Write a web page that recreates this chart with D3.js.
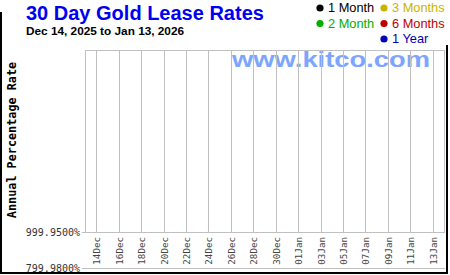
<!DOCTYPE html>
<meta charset="utf-8">
<script src="https://d3js.org/d3.v7.min.js"></script>
<style>
  body { margin: 0; background: #fff; }
  svg { display: block; }
</style>
<div id="chart"></div>
<script>

// data (no series values are plotted in the reference)
var title = "30 Day Gold Lease Rates"
var subtitle = "Dec 14, 2025 to Jan 13, 2026"
var seriesNames = ["1 Month", "2 Month", "3 Months", "6 Months", "1 Year"]
var dateStart = "2025-12-14"
var dateEnd = "2026-01-13"
var yTickValues = [799.98, 999.95]
var seriesValues = [[], [], [], [], []]

// styles
var seriesColors = ["#000000", "#00b000", "#c8b400", "#c00000", "#0000b4"]

var width = 450,
    height = 275

var svg = d3.select("#chart")
  .append("svg")
    .attr("width", width)
    .attr("height", height)

// outer frame (left, bottom, right)
svg.append("path")
  .attr("d", "M1,12 V273 H447 V45")
  .attr("fill", "none")
  .attr("stroke", "#000")
  .attr("stroke-width", 2)

// titles
svg.append("text").attr("x", 26).attr("y", 19.5).text(title)
  .style("font-family", "Arial, 'Liberation Sans', sans-serif")
  .style("font-weight", 700).style("font-size", "20px").style("fill", "#0000f0")
svg.append("text").attr("x", 26).attr("y", 35).text(subtitle)
  .style("font-family", "Arial, 'Liberation Sans', sans-serif")
  .style("font-weight", 700).style("font-size", "11.8px").style("fill", "#000")

// scales
var parse = d3.utcParse("%Y-%m-%d")
var t0 = parse(dateStart), t1 = parse(dateEnd)
var x = d3.scaleUtc()
  .domain([d3.utcDay.offset(t0, -1), d3.utcDay.offset(t1, 1)])
  .range([85, 444])
var y = d3.scaleLinear()
  .domain(d3.extent(yTickValues))
  .range([268, 232])

var xTicks = d3.utcDays(t0, d3.utcDay.offset(t1, 1), 2)

// watermark
svg.append("text").attr("x", 232).attr("y", 67).text("www.kitco.com")
  .style("font-family", "Arial, 'Liberation Sans', sans-serif")
  .style("font-weight", 700).style("font-size", "22.5px")
  .style("fill", "#6f9cff").style("opacity", 0.9)
  .attr("textLength", 198).attr("lengthAdjust", "spacingAndGlyphs")

// legend
var legend = svg.append("g")
seriesNames.forEach(function(name, i) {
  var col = i < 2 ? 0 : 1
  var row = i < 2 ? i : i - 2
  var lx = 320 + col * 64
  var ly = 8 + row * 15.5
  legend.append("circle").attr("cx", lx).attr("cy", ly).attr("r", 3.6).style("fill", seriesColors[i])
  legend.append("text").attr("x", lx + 8).attr("y", ly + 4.4).text(name)
    .style("font-family", "Arial, 'Liberation Sans', sans-serif")
    .style("font-size", "12.8px").style("fill", seriesColors[i])
})

// grid
var grid = svg.append("g").attr("stroke", "#c0c0c0").attr("stroke-width", 1)
grid.selectAll("line.v")
  .data(xTicks)
  .enter()
  .append("line")
    .attr("x1", function(d) { return Math.round(x(d)) + 0.5 })
    .attr("x2", function(d) { return Math.round(x(d)) + 0.5 })
    .attr("y1", 50)
    .attr("y2", y(yTickValues[1]))

// plot frame
grid.append("rect")
  .attr("x", x.range()[0] + 0.5).attr("y", 50.5)
  .attr("width", x.range()[1] - x.range()[0]).attr("height", y(yTickValues[1]) - 50)
  .attr("fill", "none")

// horizontal lines for the y ticks
grid.selectAll("line.h")
  .data(yTickValues)
  .enter()
  .append("line")
    .attr("x1", 82)
    .attr("x2", x.range()[1] + 1)
    .attr("y1", function(d) { return Math.round(y(d)) + 0.5 })
    .attr("y2", function(d) { return Math.round(y(d)) + 0.5 })

// y tick labels
svg.selectAll("text.ylab")
  .data(yTickValues)
  .enter()
  .append("text")
    .attr("x", 80)
    .attr("y", function(d) { return y(d) })
    .attr("dy", "0.35em")
    .attr("text-anchor", "end")
    .text(function(d) { return d3.format(".4f")(d) + "%" })
    .style("font-family", "'DejaVu Sans Mono', monospace")
    .style("font-size", "10px")
    .style("fill", "#333")

// x tick labels
var fmt = d3.utcFormat("%d%b")
svg.selectAll("text.xlab")
  .data(xTicks)
  .enter()
  .append("text")
    .attr("transform", function(d) { return "translate(" + (Math.round(x(d)) + 0.5) + ",237) rotate(-90)" })
    .attr("dy", "0.35em")
    .attr("text-anchor", "end")
    .text(function(d) { return fmt(d) })
    .style("font-family", "'DejaVu Sans Mono', monospace")
    .style("font-size", "9.2px")
    .style("fill", "#444")

// y axis title
svg.append("text")
  .attr("transform", "translate(12,140) rotate(-90)")
  .attr("dy", "0.35em")
  .attr("text-anchor", "middle")
  .text("Annual Percentage Rate")
  .style("font-family", "'DejaVu Sans Mono', monospace")
  .style("font-weight", 700)
  .style("font-size", "11.8px")
  .style("fill", "#000")

// series lines (empty in the reference)
var line = d3.line().x(function(d) { return x(parse(d[0])) }).y(function(d) { return y(d[1]) })
svg.selectAll("path.series")
  .data(seriesValues)
  .enter()
  .append("path")
    .attr("class", "series")
    .attr("d", function(d) { return d.length ? line(d) : null })
    .attr("fill", "none")
    .attr("stroke", function(d, i) { return seriesColors[i] })

</script>
